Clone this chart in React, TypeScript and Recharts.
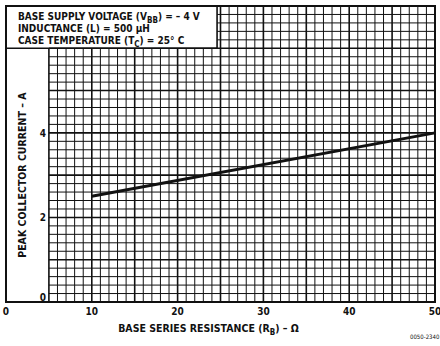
import React from "react";
import {
  LineChart,
  Line,
  XAxis,
  YAxis,
  ReferenceLine,
  ReferenceArea,
  Label
} from "recharts";

// peak collector current vs base series resistance
const resistance = [10, 50];
const current = [2.5, 4.0];
const xTicks = [0, 10, 20, 30, 40, 50];
const yTicks = [0, 2, 4];

const data = resistance.map((r, i) => ({ r, amps: current[i] }));

// graph paper: 1 ohm by 0.2 A squares, starting at 5 ohm
const gridX = Array.from({ length: 46 }, (_, k) => 5 + k);
const gridY = Array.from({ length: 36 }, (_, k) => +(k * 0.2).toFixed(1));
const boxRight = 24.6; // conditions box covers the grid up to here
const boxBottom = 6;
const yTop = 7;

const font = "'DejaVu Sans Condensed', 'Liberation Sans Narrow', sans-serif";
const ink = "#111";

// the 0 label sits just above the bottom border
const YTick = (props: any) => (
  <text
    x={46}
    y={props.y}
    dy={props.payload.value === 0 ? -1 : 4}
    textAnchor="end"
    fontFamily={font}
    fontWeight="bold"
    fontSize={10}
    fill={ink}
  >
    {props.payload.value}
  </text>
);

const Conditions = (props: any) => {
  const vb = props.viewBox;
  const t = { fontFamily: font, fontWeight: "bold" as const, fontSize: 10, fill: ink };
  return (
    <g>
      <text x={vb.x + 12} y={vb.y + 14} {...t}>
        BASE SUPPLY VOLTAGE (V<tspan dy={3} fontSize={8}>BB</tspan>
        <tspan dy={-3}>) = – 4 V</tspan>
      </text>
      <text x={vb.x + 12} y={vb.y + 26} {...t}>
        INDUCTANCE (L) = 500 µH
      </text>
      <text x={vb.x + 12} y={vb.y + 38} {...t}>
        CASE TEMPERATURE (T<tspan dy={3} fontSize={8}>C</tspan>
        <tspan dy={-3}>) = 25° C</tspan>
      </text>
    </g>
  );
};

const XTitle = (props: any) => {
  const vb = props.viewBox;
  return (
    <g>
      <text
        x={vb.x + vb.width / 2 - 12}
        y={vb.y + 30}
        textAnchor="middle"
        fontFamily={font}
        fontWeight="bold"
        fontSize={10.5}
        fill={ink}
      >
        BASE SERIES RESISTANCE (R<tspan dy={3} fontSize={8}>B</tspan>
        <tspan dy={-3}>) – Ω</tspan>
      </text>
      <text x={410} y={vb.y + 37} fontFamily={font} fontSize={6} fill={ink}>
        0050-2340
      </text>
    </g>
  );
};

export default function App() {
  return (
    <div style={{ position: "absolute", left: 0, top: 0, width: 440, height: 346, background: "#fff" }}>
      <LineChart
        width={440}
        height={346}
        data={data}
        margin={{ top: 6, right: 5, bottom: 8, left: 0 }}
      >
        <XAxis
          dataKey="r"
          type="number"
          domain={[0, 50]}
          ticks={xTicks}
          axisLine={false}
          tickLine={false}
          tickSize={4}
          height={36}
          tick={{ fontFamily: font, fontWeight: "bold", fontSize: 10, fill: ink }}
        >
          <Label content={XTitle} />
        </XAxis>
        <YAxis
          type="number"
          domain={[0, yTop]}
          ticks={yTicks}
          width={6}
          axisLine={false}
          tickLine={false}
          tick={YTick}
        />
        {gridX.map((x) => (
          <ReferenceLine
            key={"vx" + x}
            segment={[
              { x, y: 0 },
              { x, y: x < boxRight ? boxBottom : yTop }
            ]}
            stroke={ink}
            strokeWidth={x % 5 === 0 ? 1.6 : 1}
          />
        ))}
        {gridY.map((y) => (
          <ReferenceLine
            key={"hy" + y}
            segment={[
              { x: y > boxBottom ? boxRight : 5, y },
              { x: 50, y }
            ]}
            stroke={ink}
            strokeWidth={Math.abs(y - Math.round(y)) < 0.01 ? 1.6 : 1}
          />
        ))}
        <ReferenceArea x1={0} x2={5} y1={0} y2={boxBottom} fill="none" stroke="none">
          <Label
            value="PEAK COLLECTOR CURRENT – A"
            angle={-90}
            position="center"
            dx={-5}
            style={{ fontFamily: font, fontWeight: "bold", fontSize: 10.5, fill: ink }}
          />
        </ReferenceArea>
        <ReferenceArea
          x1={0}
          x2={boxRight}
          y1={boxBottom}
          y2={yTop}
          fill="#fff"
          fillOpacity={1}
          stroke={ink}
          strokeWidth={1.6}
        >
          <Label content={Conditions} />
        </ReferenceArea>
        <ReferenceArea x1={0} x2={50} y1={0} y2={yTop} fill="none" stroke={ink} strokeWidth={2} />
        <Line
          type="linear"
          dataKey="amps"
          stroke={ink}
          strokeWidth={3}
          dot={false}
          isAnimationActive={false}
        />
      </LineChart>
    </div>
  );
}
